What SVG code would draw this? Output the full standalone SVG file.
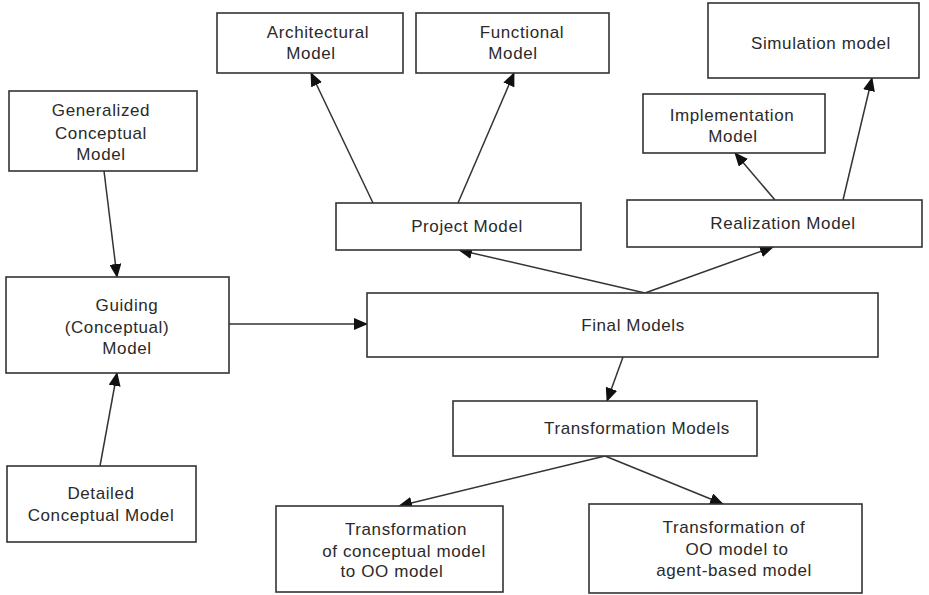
<svg xmlns="http://www.w3.org/2000/svg" width="929" height="595" viewBox="0 0 929 595">
  <style>
    .box { fill: #ffffff; stroke: #333333; stroke-width: 1.6; }
    .lbl { font-family: "Liberation Sans", Arial, sans-serif; font-size: 17px; fill: #2a2a2a; text-anchor: middle; letter-spacing: 0.6px; }
    .edge { fill: none; stroke: #333333; stroke-width: 1.5; marker-end: url(#arrow); }
  </style>
  <defs>
    <marker id="arrow" markerUnits="userSpaceOnUse" markerWidth="14" markerHeight="12" viewBox="0 0 14 12" refX="13" refY="6" orient="auto">
      <path d="M0,0 L14,6 L0,12 z" fill="#111111"/>
    </marker>
  </defs>
  <rect width="929" height="595" fill="#ffffff"/>

  <!-- connectors -->
  <g id="connectors">
    <line class="edge" x1="104" y1="171" x2="117" y2="277"/>
    <line class="edge" x1="100" y1="466" x2="117" y2="373"/>
    <line class="edge" x1="229" y1="324" x2="367" y2="324"/>
    <line class="edge" x1="645" y1="293" x2="459" y2="250"/>
    <line class="edge" x1="645" y1="293" x2="773" y2="247"/>
    <line class="edge" x1="373" y1="203" x2="311" y2="73"/>
    <line class="edge" x1="458" y1="203" x2="514" y2="73"/>
    <line class="edge" x1="775" y1="200" x2="735" y2="153"/>
    <line class="edge" x1="843" y1="200" x2="872" y2="78"/>
    <line class="edge" x1="623" y1="357" x2="607" y2="401"/>
    <line class="edge" x1="605" y1="456" x2="399" y2="506"/>
    <line class="edge" x1="605" y1="456" x2="723" y2="504"/>
  </g>

  <g id="architectural-model">
    <rect class="box" x="217" y="13" width="186" height="60"/>
    <text class="lbl" x="318" y="38">Architectural</text>
    <text class="lbl" x="311" y="59">Model</text>
  </g>

  <g id="functional-model">
    <rect class="box" x="416" y="13" width="193" height="60"/>
    <text class="lbl" x="522" y="38">Functional</text>
    <text class="lbl" x="513" y="59">Model</text>
  </g>

  <g id="simulation-model">
    <rect class="box" x="708" y="3" width="211" height="75"/>
    <text class="lbl" x="821" y="49">Simulation model</text>
  </g>

  <g id="implementation-model">
    <rect class="box" x="643" y="94" width="182" height="59"/>
    <text class="lbl" x="732" y="121">Implementation</text>
    <text class="lbl" x="733" y="142">Model</text>
  </g>

  <g id="generalized-conceptual-model">
    <rect class="box" x="9" y="91" width="188" height="80"/>
    <text class="lbl" x="101" y="116">Generalized</text>
    <text class="lbl" x="101" y="139">Conceptual</text>
    <text class="lbl" x="101" y="160">Model</text>
  </g>

  <g id="project-model">
    <rect class="box" x="336" y="203" width="245" height="47"/>
    <text class="lbl" x="467" y="232">Project Model</text>
  </g>

  <g id="realization-model">
    <rect class="box" x="627" y="200" width="295" height="47"/>
    <text class="lbl" x="783" y="229">Realization  Model</text>
  </g>

  <g id="guiding-model">
    <rect class="box" x="6" y="277" width="223" height="96"/>
    <text class="lbl" x="127" y="311">Guiding</text>
    <text class="lbl" x="117" y="333">(Conceptual)</text>
    <text class="lbl" x="127" y="354">Model</text>
  </g>

  <g id="final-models">
    <rect class="box" x="367" y="293" width="511" height="64"/>
    <text class="lbl" x="633" y="331">Final Models</text>
  </g>

  <g id="transformation-models">
    <rect class="box" x="453" y="401" width="304" height="55"/>
    <text class="lbl" x="637" y="434">Transformation Models</text>
  </g>

  <g id="detailed-conceptual-model">
    <rect class="box" x="7" y="466" width="189" height="76"/>
    <text class="lbl" x="101" y="499">Detailed</text>
    <text class="lbl" x="101" y="521">Conceptual Model</text>
  </g>

  <g id="transformation-conceptual-to-oo">
    <rect class="box" x="276" y="506" width="227" height="86"/>
    <text class="lbl" x="406" y="535">Transformation</text>
    <text class="lbl" x="404" y="557">of conceptual model</text>
    <text class="lbl" x="392" y="577">to OO model</text>
  </g>

  <g id="transformation-oo-to-agent">
    <rect class="box" x="589" y="504" width="273" height="89"/>
    <text class="lbl" x="734" y="533">Transformation of</text>
    <text class="lbl" x="737" y="555">OO model to</text>
    <text class="lbl" x="734" y="576">agent-based model</text>
  </g>
</svg>
